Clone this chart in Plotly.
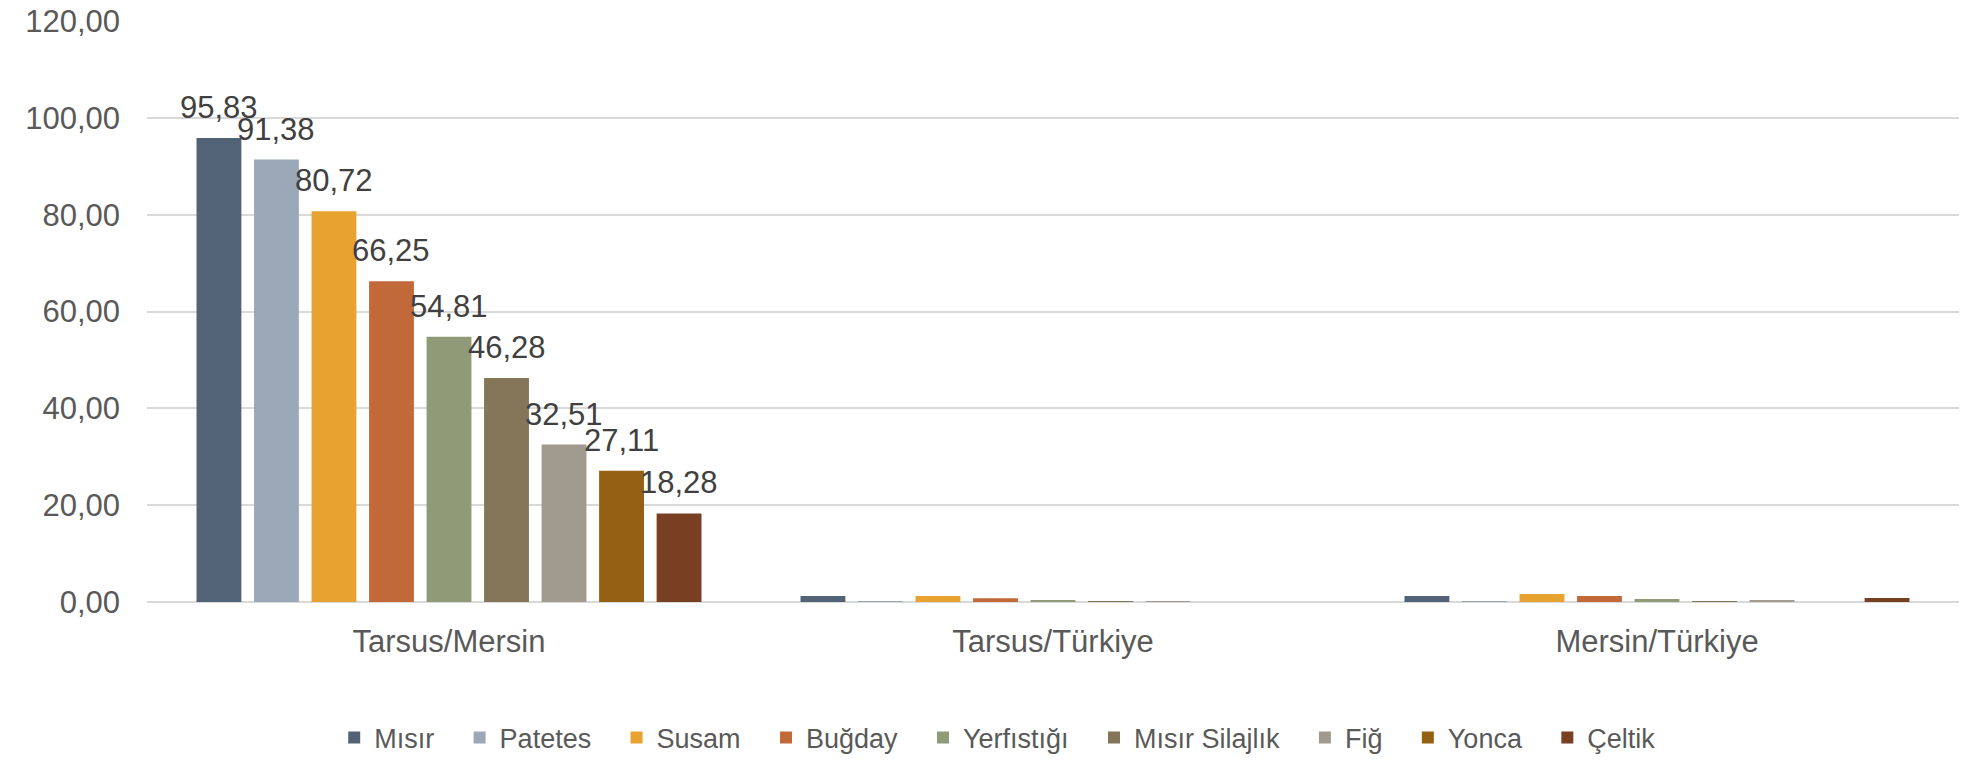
import plotly.graph_objects as go

categories = ["Tarsus/Mersin", "Tarsus/Türkiye", "Mersin/Türkiye"]
series_names = ["Mısır", "Patetes", "Susam", "Buğday", "Yerfıstığı",
                "Mısır Silajlık", "Fiğ", "Yonca", "Çeltik"]
tarsus_mersin = [95.83, 91.38, 80.72, 66.25, 54.81, 46.28, 32.51, 27.11, 18.28]
tarsus_turkiye = [1.24, 0.05, 1.25, 0.75, 0.25, 0.02, 0.02, 0.0, 0.0]
mersin_turkiye = [1.24, 0.05, 1.65, 1.24, 0.62, 0.2, 0.4, 0.0, 0.83]
colors = ["#536377", "#9BA8B8", "#E8A230", "#C2693A", "#919A77",
          "#85765A", "#A19B8F", "#946013", "#783F22"]

BARGAP = 0.143
FONT = "Liberation Sans, Arial, sans-serif"
n = len(series_names)

fig = go.Figure()
for i, name in enumerate(series_names):
    vals = [tarsus_mersin[i], tarsus_turkiye[i], mersin_turkiye[i]]
    fig.add_trace(go.Bar(
        name=name + "\u00a0\u00a0\u2009", x=categories, y=vals,
        marker=dict(color=colors[i], line=dict(width=0)),
        hovertemplate=name + ": %{y:.2f}<extra>%{x}</extra>",
    ))

# data labels above the first category's bars
slot = (1 - BARGAP) / n
for i, v in enumerate(tarsus_mersin):
    fig.add_annotation(
        x=0 - (1 - BARGAP) / 2 + (i + 0.5) * slot, y=v, xref="x", yref="y",
        text=f"{v:.2f}".replace(".", ","), showarrow=False,
        yanchor="bottom", xanchor="center", yshift=11,
        font=dict(family=FONT, size=31, color="#404040"),
    )

fig.update_layout(
    width=1962, height=760,
    barmode="group", bargap=BARGAP, bargroupgap=0.22,
    separators=",.",
    paper_bgcolor="white", plot_bgcolor="white",
    margin=dict(l=147, r=3, t=21, b=158, autoexpand=False),
    showlegend=True,
    legend=dict(orientation="h", x=0.475, xanchor="center", y=-0.234, yanchor="middle",
                font=dict(family=FONT, size=27, color="#595959"),
                traceorder="normal"),
    xaxis=dict(showgrid=False, showline=False, ticks="", ticklabelstandoff=18,
               tickfont=dict(family=FONT, size=31, color="#595959")),
    yaxis=dict(range=[0, 120], dtick=20, tickformat=".2f", showgrid=True,
               gridcolor="#D9D9D9", gridwidth=1.5, zeroline=True, zerolinecolor="#D9D9D9",
               zerolinewidth=1.5, showline=False, ticks="", ticklabelstandoff=26,
               tickfont=dict(family=FONT, size=31, color="#595959")),
)

fig.write_html("out.html", config={"displayModeBar": False},
               post_script="document.body.style.margin='0';document.body.style.overflow='hidden';")
